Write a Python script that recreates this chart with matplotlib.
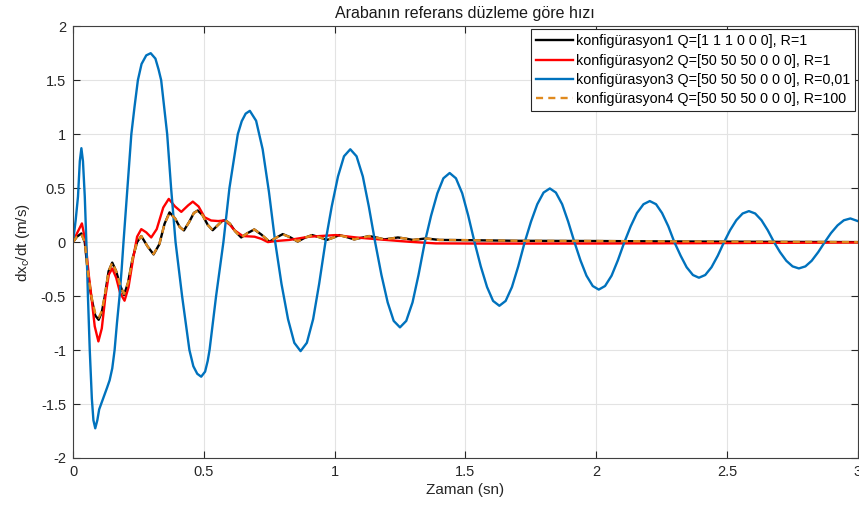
import matplotlib
matplotlib.use('Agg')
import matplotlib.pyplot as plt

plt.rcParams['font.family'] = ['Liberation Sans', 'DejaVu Sans']
plt.rcParams['mathtext.default'] = 'regular'

# konfigurasyon1 Q=[1 1 1 0 0 0], R=1
t1 = [0, 0.015, 0.032, 0.045, 0.057, 0.070, 0.085, 0.098, 0.110, 0.121, 0.136, 0.150,
      0.165, 0.18, 0.195, 0.21, 0.228, 0.245, 0.261, 0.285, 0.308, 0.33, 0.35, 0.369,
      0.39, 0.408, 0.424, 0.445, 0.462, 0.477, 0.495, 0.515, 0.534, 0.555, 0.57, 0.582,
      0.60, 0.62, 0.643, 0.665, 0.693, 0.72, 0.751, 0.776, 0.802, 0.83, 0.859, 0.886,
      0.914, 0.942, 0.970, 0.994, 1.018, 1.046, 1.075, 1.103, 1.132, 1.161, 1.19, 1.216,
      1.242, 1.27, 1.30, 1.325, 1.349, 1.4, 1.5, 1.7, 2.0, 2.3, 2.6, 3.0]
v1 = [0, 0.05, 0.08, 0.0, -0.29, -0.51, -0.68, -0.72, -0.65, -0.51, -0.27, -0.19,
      -0.27, -0.40, -0.49, -0.38, -0.15, 0.0, 0.056, -0.04, -0.114, -0.02, 0.17, 0.275,
      0.22, 0.14, 0.108, 0.19, 0.27, 0.293, 0.25, 0.16, 0.11, 0.16, 0.195, 0.204,
      0.17, 0.10, 0.043, 0.08, 0.117, 0.07, 0.003, 0.04, 0.074, 0.045, 0.005, 0.04,
      0.065, 0.045, 0.02, 0.04, 0.065, 0.047, 0.025, 0.04, 0.056, 0.042, 0.025, 0.033,
      0.043, 0.033, 0.02, 0.027, 0.034, 0.02, 0.018, 0.012, 0.01, 0.006, 0.003, 0.0]

# konfigurasyon2 Q=[50 50 50 0 0 0], R=1
t2 = [0, 0.015, 0.034, 0.048, 0.060, 0.070, 0.083, 0.097, 0.110, 0.124, 0.137, 0.150,
      0.165, 0.18, 0.197, 0.212, 0.23, 0.245, 0.261, 0.28, 0.299, 0.32, 0.345, 0.366,
      0.39, 0.414, 0.44, 0.458, 0.48, 0.503, 0.528, 0.555, 0.579, 0.60, 0.617, 0.649,
      0.694, 0.72, 0.745, 0.776, 0.827, 0.903, 1.005, 1.082, 1.17, 1.285, 1.387, 1.6,
      2.0, 2.4, 3.0]
v2 = [0, 0.08, 0.173, 0.0, -0.3, -0.5, -0.78, -0.92, -0.80, -0.5, -0.3, -0.245,
      -0.33, -0.47, -0.543, -0.42, -0.15, 0.05, 0.12, 0.09, 0.043, 0.12, 0.32, 0.40,
      0.33, 0.28, 0.34, 0.375, 0.33, 0.23, 0.20, 0.195, 0.20, 0.16, 0.11, 0.056,
      0.05, 0.03, 0.0, 0.01, 0.02, 0.05, 0.065, 0.043, 0.025, 0.003, -0.012, -0.014,
      -0.013, -0.01, -0.004]

# konfigurasyon3 Q=[50 50 50 0 0 0], R=0,01
t3 = [0, 0.01, 0.019, 0.026, 0.032, 0.038, 0.045, 0.051, 0.057, 0.064, 0.072, 0.078,
      0.085, 0.093, 0.10, 0.115, 0.13, 0.14, 0.15, 0.159, 0.168, 0.178, 0.186, 0.193,
      0.208, 0.223, 0.235, 0.248, 0.262, 0.28, 0.297, 0.315, 0.327, 0.337, 0.36, 0.375,
      0.392, 0.417, 0.445, 0.46, 0.475, 0.49, 0.505, 0.515, 0.522, 0.547, 0.575, 0.598,
      0.630, 0.645, 0.66, 0.676,
      0.700, 0.725, 0.749, 0.773, 0.797, 0.822, 0.846, 0.870,
      0.894, 0.918, 0.941, 0.965, 0.989, 1.013, 1.036, 1.060,
      1.084, 1.108, 1.131, 1.155, 1.179, 1.203, 1.226, 1.250,
      1.274, 1.298, 1.321, 1.345, 1.369, 1.393, 1.416, 1.440,
      1.464, 1.488, 1.511, 1.535, 1.559, 1.583, 1.606, 1.630,
      1.654, 1.678, 1.702, 1.727, 1.751, 1.775, 1.799, 1.823,
      1.846, 1.870, 1.893, 1.917, 1.940, 1.963, 1.987, 2.010,
      2.034, 2.059, 2.083, 2.108, 2.132, 2.156, 2.181, 2.205,
      2.229, 2.252, 2.276, 2.299, 2.323, 2.346, 2.370, 2.393,
      2.417, 2.441, 2.465, 2.489, 2.512, 2.536, 2.560, 2.584,
      2.608, 2.632, 2.656, 2.680, 2.703, 2.727, 2.751, 2.775,
      2.800, 2.824, 2.849, 2.874, 2.898, 2.923, 2.947, 2.972, 3.0]
v3 = [0, 0.2, 0.42, 0.75, 0.87, 0.75, 0.42, 0.0, -0.5, -1.0, -1.45, -1.65,
      -1.725, -1.65, -1.55, -1.45, -1.35, -1.28, -1.17, -1.0, -0.75, -0.5, -0.25, 0.0,
      0.5, 1.0, 1.25, 1.5, 1.65, 1.73, 1.75, 1.70, 1.6, 1.5, 1.0, 0.5,
      0.0, -0.5, -1.0, -1.15, -1.22, -1.247, -1.2, -1.1, -1.0, -0.5, 0.0, 0.5,
      1.0, 1.12, 1.19, 1.216,
      1.124, 0.860, 0.466, 0.0, -0.387, -0.714, -0.933, -1.01,
      -0.933, -0.714, -0.387, 0.0, 0.329, 0.608, 0.795, 0.86,
      0.795, 0.608, 0.329, 0.0, -0.303, -0.559, -0.730, -0.79,
      -0.730, -0.559, -0.303, 0.0, 0.245, 0.452, 0.591, 0.64,
      0.591, 0.452, 0.245, 0.0, -0.226, -0.417, -0.545, -0.59,
      -0.545, -0.417, -0.226, 0.0, 0.190, 0.351, 0.459, 0.497,
      0.459, 0.351, 0.190, 0.0, -0.169, -0.311, -0.407, -0.44,
      -0.407, -0.311, -0.169, 0.0, 0.146, 0.269, 0.351, 0.38,
      0.351, 0.269, 0.146, 0.0, -0.126, -0.233, -0.305, -0.33,
      -0.305, -0.233, -0.126, 0.0, 0.110, 0.203, 0.265, 0.287,
      0.265, 0.203, 0.110, 0.0, -0.093, -0.173, -0.225, -0.244,
      -0.225, -0.173, -0.093, 0.0, 0.084, 0.155, 0.202, 0.219, 0.195]

# konfigurasyon4 Q=[50 50 50 0 0 0], R=100
t4 = t1
v4 = [0, 0.05, 0.075, 0.0, -0.28, -0.50, -0.66, -0.70, -0.64, -0.50, -0.27, -0.19,
      -0.27, -0.40, -0.48, -0.38, -0.15, 0.0, 0.056, -0.04, -0.11, -0.02, 0.17, 0.27,
      0.22, 0.14, 0.108, 0.19, 0.27, 0.29, 0.25, 0.16, 0.11, 0.16, 0.195, 0.204,
      0.17, 0.10, 0.043, 0.08, 0.117, 0.07, 0.005, 0.04, 0.072, 0.045, 0.007, 0.04,
      0.063, 0.045, 0.02, 0.04, 0.063, 0.047, 0.025, 0.04, 0.055, 0.042, 0.025, 0.033,
      0.042, 0.033, 0.02, 0.027, 0.033, 0.02, 0.018, 0.012, 0.01, 0.006, 0.003, 0.0]

labels = ['konfigürasyon1 Q=[1 1 1 0 0 0], R=1',
          'konfigürasyon2 Q=[50 50 50 0 0 0], R=1',
          'konfigürasyon3 Q=[50 50 50 0 0 0], R=0,01',
          'konfigürasyon4 Q=[50 50 50 0 0 0], R=100']

xticks = [0, 0.5, 1, 1.5, 2, 2.5, 3]
xticklabels = ['0', '0.5', '1', '1.5', '2', '2.5', '3']
yticks = [-2, -1.5, -1, -0.5, 0, 0.5, 1, 1.5, 2]
yticklabels = ['-2', '-1.5', '-1', '-0.5', '0', '0.5', '1', '1.5', '2']

fig = plt.figure(figsize=(8.59, 5.14), dpi=100)
ax = fig.add_axes([0.085, 0.109, 0.9135, 0.840])

ax.plot(t1, v1, color='black', lw=1.7, label=labels[0])
ax.plot(t2, v2, color='#ff0000', lw=1.7, label=labels[1])
ax.plot(t3, v3, color='#0072bd', lw=1.7, label=labels[2])
ax.plot(t4, v4, color='#e08a1e', lw=1.7, ls=(0, (3, 2.2)), label=labels[3])

ax.set_xlim(0, 3)
ax.set_ylim(-2, 2)
ax.set_xticks(xticks)
ax.set_xticklabels(xticklabels)
ax.set_yticks(yticks)
ax.set_yticklabels(yticklabels)
ax.grid(True, color='#e3e3e3', lw=0.8)
ax.set_axisbelow(True)
ax.tick_params(direction='in', length=5, width=0.8, colors='#262626', labelsize=10.5,
               top=True, right=True, pad=5)
for s in ax.spines.values():
    s.set_color('#404040')
    s.set_linewidth(0.8)

ax.set_title('Arabanın referans düzleme göre hızı', fontsize=11.5, color='#1a1a1a', pad=6)
ax.set_xlabel('Zaman (sn)', fontsize=11, color='#262626', labelpad=3)
ax.set_ylabel('dx$_c$/dt (m/s)', fontsize=11, color='#262626', labelpad=6)

leg = ax.legend(loc='upper right', fontsize=10.3, frameon=True, fancybox=False,
                framealpha=1, edgecolor='#262626', handlelength=2.6, handletextpad=0.15,
                labelspacing=0.38, borderaxespad=0.2, borderpad=0.35)
leg.get_frame().set_linewidth(0.8)

fig.savefig('out.png', dpi=100)
